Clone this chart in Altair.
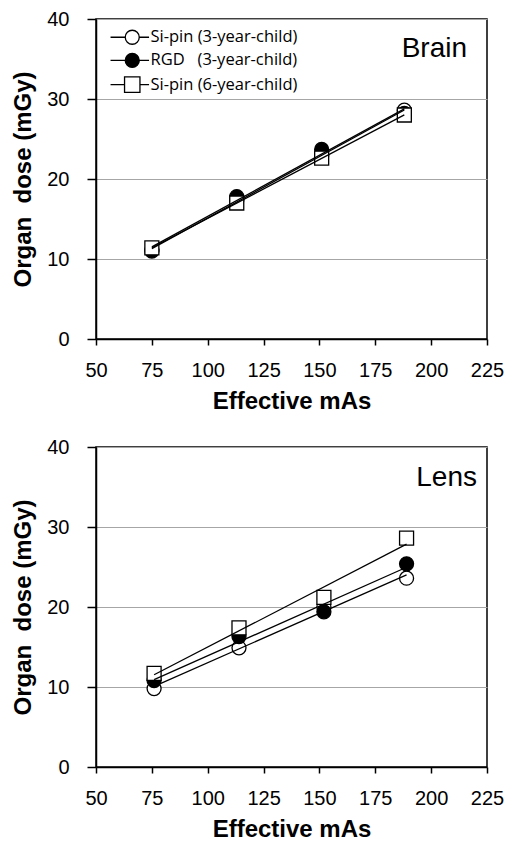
import altair as alt
import pandas as pd

# ---- data ----
series = ["Si-pin (3-year-child)", "RGD\u00a0\u00a0\u00a0(3-year-child)", "Si-pin (6-year-child)"]
mas_brain = [75, 113, 151, 188]
brain_sipin3 = [11.2, 17.3, 22.9, 28.6]
brain_rgd3 = [11.0, 17.8, 23.7, 28.2]
brain_sipin6 = [11.4, 17.0, 22.6, 28.0]
mas_lens = [76, 114, 152, 189]
lens_sipin3 = [9.8, 14.9, 20.0, 23.6]
lens_rgd3 = [10.8, 16.3, 19.4, 25.4]
lens_sipin6 = [11.7, 17.4, 21.2, 28.6]
x_ticks = [50, 75, 100, 125, 150, 175, 200, 225]
y_ticks = [0, 10, 20, 30, 40]

# ---- styles ----
shapes = ["circle", "circle", "square"]
fills = ["white", "black", "white"]
legend_paths = [
    "M-3.1,0L-1,0M1,0L2.4,0M-1,0A1,1 0 1,1 1,0A1,1 0 1,1 -1,0Z",
    "M-3.1,0L-1,0M1,0L2.4,0M-1,0A1,1 0 1,1 1,0A1,1 0 1,1 -1,0Z",
    "M-3.1,0L-1.1,0M1.1,0L2.4,0M-1.1,-1.1L1.1,-1.1L1.1,1.1L-1.1,1.1Z",
]
FONT = "Liberation Sans"
W, H = 391, 320


def make_df(mas, vals):
    rows = []
    for s, v in zip(series, vals):
        for m, d in zip(mas, v):
            rows.append({"mas": m, "dose": d, "series": s})
    return pd.DataFrame(rows)


df_brain = make_df(mas_brain, [brain_sipin3, brain_rgd3, brain_sipin6])
df_lens = make_df(mas_lens, [lens_sipin3, lens_rgd3, lens_sipin6])


def panel(df, name, lx, ly, with_legend):
    base = alt.Chart(df)
    x = alt.X("mas:Q", scale=alt.Scale(domain=[50, 225], nice=False),
              axis=alt.Axis(values=x_ticks, title="Effective mAs", grid=False, labelFlush=False,
                            tickSize=6, labelPadding=15, titlePadding=9))
    y = alt.Y("dose:Q", scale=alt.Scale(domain=[0, 40], nice=False),
              axis=alt.Axis(values=y_ticks, title="Organ\u00a0\u00a0dose (mGy)", grid=True,
                            labelFlush=False, tickSize=9, labelPadding=18, titlePadding=11))
    layers = []
    for s, shp, f in zip(series, shapes, fills):
        layers.append(
            base.transform_filter(alt.datum.series == s)
            .mark_point(shape=shp, fill=f, filled=True, stroke="black",
                        strokeWidth=1.3, size=196, opacity=1)
            .encode(x=x, y=y)
        )
    lines = (
        base.transform_regression("mas", "dose", groupby=["series"])
        .mark_line(color="black", strokeWidth=1.3)
        .encode(x=x, y=y, detail="series:N")
    )
    layers.append(lines)
    label = (
        alt.Chart(pd.DataFrame({"label": [name]}))
        .mark_text(align="right", baseline="alphabetic", fontSize=28, font=FONT, color="black")
        .encode(x=alt.value(lx), y=alt.value(ly), text="label:N")
    )
    layers.append(label)
    if with_legend:
        leg = alt.Legend(title=None, orient="none", legendX=28, legendY=10, padding=0,
                         labelFont="Open Sans", labelFontSize=16.5, labelColor="black",
                         labelOffset=10, rowPadding=3.2, symbolSize=196,
                         symbolStrokeWidth=1.3, symbolOpacity=1, symbolFillColor="white")
        legend_layer = (
            base.transform_filter("false")
            .mark_point(filled=False, stroke="black", strokeWidth=1.3, opacity=1)
            .encode(
                shape=alt.Shape("series:N", scale=alt.Scale(domain=series, range=legend_paths), legend=leg),
                fill=alt.Fill("series:N", scale=alt.Scale(domain=series, range=fills), legend=leg),
            )
        )
        layers.append(legend_layer)
    return alt.layer(*layers).properties(width=W, height=H)


top = panel(df_brain, "Brain", W - 20, 38, True)
bottom = panel(df_lens, "Lens", W - 10, 39, False)

chart = (
    alt.vconcat(top, bottom, spacing=22)
    .resolve_scale(shape="independent", fill="independent")
    .properties(padding={"left": 3, "top": 0, "right": 0, "bottom": 0}, background="white")
    .configure_view(stroke="black", strokeWidth=1.5)
    .configure_axis(
        domainColor="black", domainWidth=1.5, tickColor="black", tickWidth=1.5,
        gridColor="#a6a6a6", gridWidth=1.2,
        labelFont=FONT, labelFontSize=20, labelColor="black",
        titleFont=FONT, titleFontSize=24, titleFontWeight="bold", titleColor="black",
    )
)

chart.save("out.html", embed_options={"renderer": "svg", "actions": False})
